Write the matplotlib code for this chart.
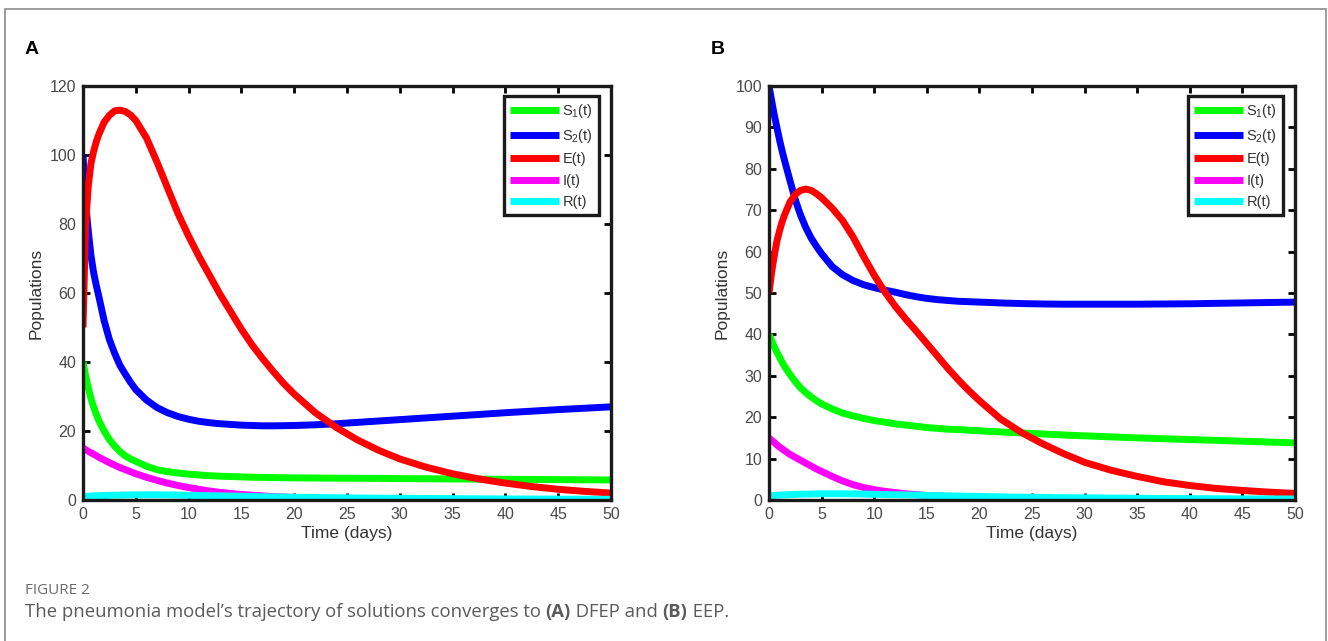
import numpy as np
import matplotlib
matplotlib.use("Agg")
import matplotlib.pyplot as plt
from matplotlib.patches import Rectangle

# ------------------------------------------------------------
# Trajectories of the pneumonia model (values read per day)
# ------------------------------------------------------------

t_days = [0, 0.25, 0.5, 0.75, 1, 1.25, 1.5,
          2, 2.5, 3, 3.5, 4, 4.5, 5,
          6, 7, 8, 9, 10, 11, 12, 13,
          14, 15, 16, 17, 18, 19, 20,
          22, 24, 26, 28, 30, 32.5,
          35, 37.5, 40, 42.5, 45, 47.5, 50]

# (A) disease-free equilibrium
s1_a = [40, 36, 32.5, 29.5, 27, 24.9, 23,
        20, 17.5, 15.6, 14, 12.8, 11.9, 11.2,
        9.8, 8.8, 8.2, 7.8, 7.5, 7.25, 7.05, 6.9,
        6.8, 6.7, 6.6, 6.55, 6.5, 6.45, 6.4,
        6.37, 6.33, 6.3, 6.27, 6.2, 6.15,
        6.1, 6.05, 6.0, 5.95, 5.9, 5.85, 5.8]
s2_a = [100, 86, 78, 71, 66, 62.3, 59,
        52, 46.5, 42.5, 39, 36.5, 34.1, 32,
        29, 26.8, 25.3, 24.2, 23.4, 22.8, 22.4, 22.1,
        21.9, 21.7, 21.6, 21.5, 21.5, 21.55, 21.6,
        21.8, 22.1, 22.5, 22.9, 23.3, 23.8,
        24.3, 24.8, 25.3, 25.75, 26.2, 26.6, 27.0]
e_a = [50, 80, 91, 97.5, 101, 103.8, 106,
       109.5, 111.5, 112.8, 113, 112.6, 111.6, 110,
       105, 98, 90.5, 83, 76.5, 70.5, 65, 59.5,
       54.5, 49.5, 45, 41, 37.3, 33.8, 30.7,
       25.3, 21, 17.4, 14.4, 11.9, 9.5,
       7.6, 6.1, 4.9, 3.9, 3.1, 2.5, 2.0]
i_a = [15, 14.6, 14.1, 13.7, 13.3, 12.85, 12.4,
       11.6, 10.8, 10.1, 9.4, 8.8, 8.2, 7.6,
       6.6, 5.7, 4.9, 4.2, 3.6, 3.1, 2.6, 2.2,
       1.9, 1.6, 1.4, 1.2, 1.0, 0.87, 0.75,
       0.56, 0.41, 0.31, 0.23, 0.18, 0.13,
       0.1, 0.07, 0.05, 0.04, 0.03, 0.02, 0.02]
r_a = [1.0, 1.05, 1.1, 1.15, 1.2, 1.22, 1.25,
       1.3, 1.35, 1.4, 1.42, 1.45, 1.48, 1.5,
       1.5, 1.5, 1.47, 1.42, 1.35, 1.3, 1.25, 1.2,
       1.15, 1.08, 1.0, 0.95, 0.9, 0.85, 0.8,
       0.72, 0.64, 0.58, 0.53, 0.5, 0.45,
       0.4, 0.35, 0.3, 0.28, 0.25, 0.22, 0.2]

# (B) endemic equilibrium
s1_b = [40, 38.5, 37, 35.7, 34.5, 33.3, 32.2,
        30.3, 28.6, 27.1, 25.9, 24.9, 24, 23.2,
        22, 21, 20.3, 19.7, 19.2, 18.8, 18.4, 18.1,
        17.8, 17.5, 17.3, 17.1, 17, 16.85, 16.7,
        16.45, 16.2, 15.95, 15.7, 15.5, 15.25,
        15, 14.8, 14.6, 14.4, 14.2, 14, 13.8]
s2_b = [100, 96.5, 93, 90, 87, 84.3, 81.8,
        77.1, 72.5, 68.8, 65.8, 63.3, 61.3, 59.5,
        56.4, 54.4, 53, 52, 51.3, 50.7, 50.2, 49.6,
        49.1, 48.7, 48.4, 48.2, 48, 47.9, 47.8,
        47.6, 47.45, 47.35, 47.3, 47.3, 47.3,
        47.3, 47.35, 47.4, 47.5, 47.6, 47.7, 47.8]
e_b = [50, 55, 59, 62.5, 65, 67.2, 69,
       72, 73.8, 74.8, 75.1, 74.8, 74, 73,
       70.5, 67.5, 63.5, 58.8, 54.3, 50.3, 46.8, 43.7,
       40.8, 37.8, 34.8, 31.8, 29, 26.4, 24,
       19.6, 16.3, 13.6, 11.2, 9.1, 7.2,
       5.7, 4.4, 3.5, 2.8, 2.3, 1.9, 1.6]
i_b = [15, 14.4, 13.9, 13.3, 12.8, 12.35, 11.9,
       11, 10.3, 9.6, 8.9, 8.2, 7.5, 6.9,
       5.7, 4.6, 3.7, 3.0, 2.5, 2.1, 1.8, 1.5,
       1.3, 1.1, 0.95, 0.82, 0.7, 0.6, 0.5,
       0.4, 0.3, 0.23, 0.17, 0.12, 0.09,
       0.06, 0.04, 0.03, 0.025, 0.02, 0.015, 0.01]
r_b = [1.0, 1.05, 1.1, 1.15, 1.2, 1.22, 1.25,
       1.3, 1.35, 1.4, 1.42, 1.45, 1.48, 1.5,
       1.5, 1.5, 1.47, 1.43, 1.38, 1.33, 1.28, 1.23,
       1.18, 1.1, 1.05, 1.0, 0.95, 0.9, 0.85,
       0.76, 0.68, 0.62, 0.56, 0.52, 0.47,
       0.42, 0.37, 0.33, 0.3, 0.28, 0.26, 0.25]

labels = [r"S$_1$(t)", r"S$_2$(t)", "E(t)", "I(t)", "R(t)"]
colors = ["#00ff00", "#0000ff", "#ff0000", "#ff00ff", "#00ffff"]

# ------------------------------------------------------------
# Style
# ------------------------------------------------------------

plt.rcParams["font.family"] = ["Liberation Sans", "DejaVu Sans"]
plt.rcParams["mathtext.fontset"] = "custom"
plt.rcParams["mathtext.rm"] = "Liberation Sans"
plt.rcParams["mathtext.it"] = "Liberation Sans"
plt.rcParams["mathtext.default"] = "regular"

W, H = 1328, 641
fig = plt.figure(figsize=(W / 100, H / 100), dpi=100)

# outer frame of the figure panel
fig.patches.append(Rectangle((5 / W, -0.02), 1321 / W, 1.02 - 9 / H,
                             transform=fig.transFigure, fill=False,
                             edgecolor="#8c8c8c", linewidth=1.2))


def draw_panel(left, right, series, ymax, ystep, letter, letter_x):
    ax = fig.add_axes([left / W, 1 - 500 / H, (right - left) / W, 414 / H])
    for values, color, label in zip(series, colors, labels):
        ax.plot(t_days, values, color=color, linewidth=5, label=label,
                solid_capstyle="butt", solid_joinstyle="round")
    ax.set_xlim(0, 50)
    ax.set_ylim(0, ymax)
    ax.set_xticks(np.arange(0, 51, 5))
    ax.set_yticks(np.arange(0, ymax + 1, ystep))
    ax.tick_params(direction="in", length=5, width=2, top=True, right=True,
                   labelsize=11.5, labelcolor="#4a4a4a", pad=5)
    for spine in ax.spines.values():
        spine.set_linewidth(2.4)
        spine.set_color("#1a1a1a")
    ax.set_xlabel("Time (days)", fontsize=12.5, color="#333333", labelpad=3)
    ax.set_ylabel("Populations", fontsize=12.5, color="#333333", labelpad=4)

    width_px = right - left
    leg = ax.legend(loc="upper right",
                    bbox_to_anchor=(1 - 12 / width_px, 1 - 10 / 414),
                    borderaxespad=0, fontsize=10.5, handlelength=3.4,
                    handletextpad=0.2, labelspacing=0.5, borderpad=0.4,
                    fancybox=False, framealpha=1)
    leg.get_frame().set_edgecolor("#1a1a1a")
    leg.get_frame().set_linewidth(2.4)
    for line in leg.get_lines():
        line.set_linewidth(5)
    for txt in leg.get_texts():
        txt.set_color("#333333")

    fig.text(letter_x / W, 1 - 50 / H, letter, fontsize=14,
             fontweight="bold", ha="center", va="center")
    return ax


draw_panel(83, 611, [s1_a, s2_a, e_a, i_a, r_a], 120, 20, "A", 32)
draw_panel(769, 1295, [s1_b, s2_b, e_b, i_b, r_b], 100, 10, "B", 718)

# ------------------------------------------------------------
# Caption
# ------------------------------------------------------------

cap_font = ["Open Sans", "DejaVu Sans"]
fig.text(25 / W, 1 - 590 / H, "FIGURE 2", fontsize=11, color="#6b6b6b",
         family=cap_font, va="center")

pieces = [("The pneumonia model\u2019s trajectory of solutions converges to ", "normal"),
          ("(A)", "bold"), (" DFEP and ", "normal"), ("(B)", "bold"),
          (" EEP.", "normal")]
renderer = fig.canvas.get_renderer()
x_px = 25
for text, weight in pieces:
    t = fig.text(x_px / W, 1 - 612 / H, text, fontsize=13.3, color="#5a5a5a",
                 family=cap_font, fontweight=weight, va="center")
    x_px += t.get_window_extent(renderer).width

fig.savefig("out.png", dpi=100)
